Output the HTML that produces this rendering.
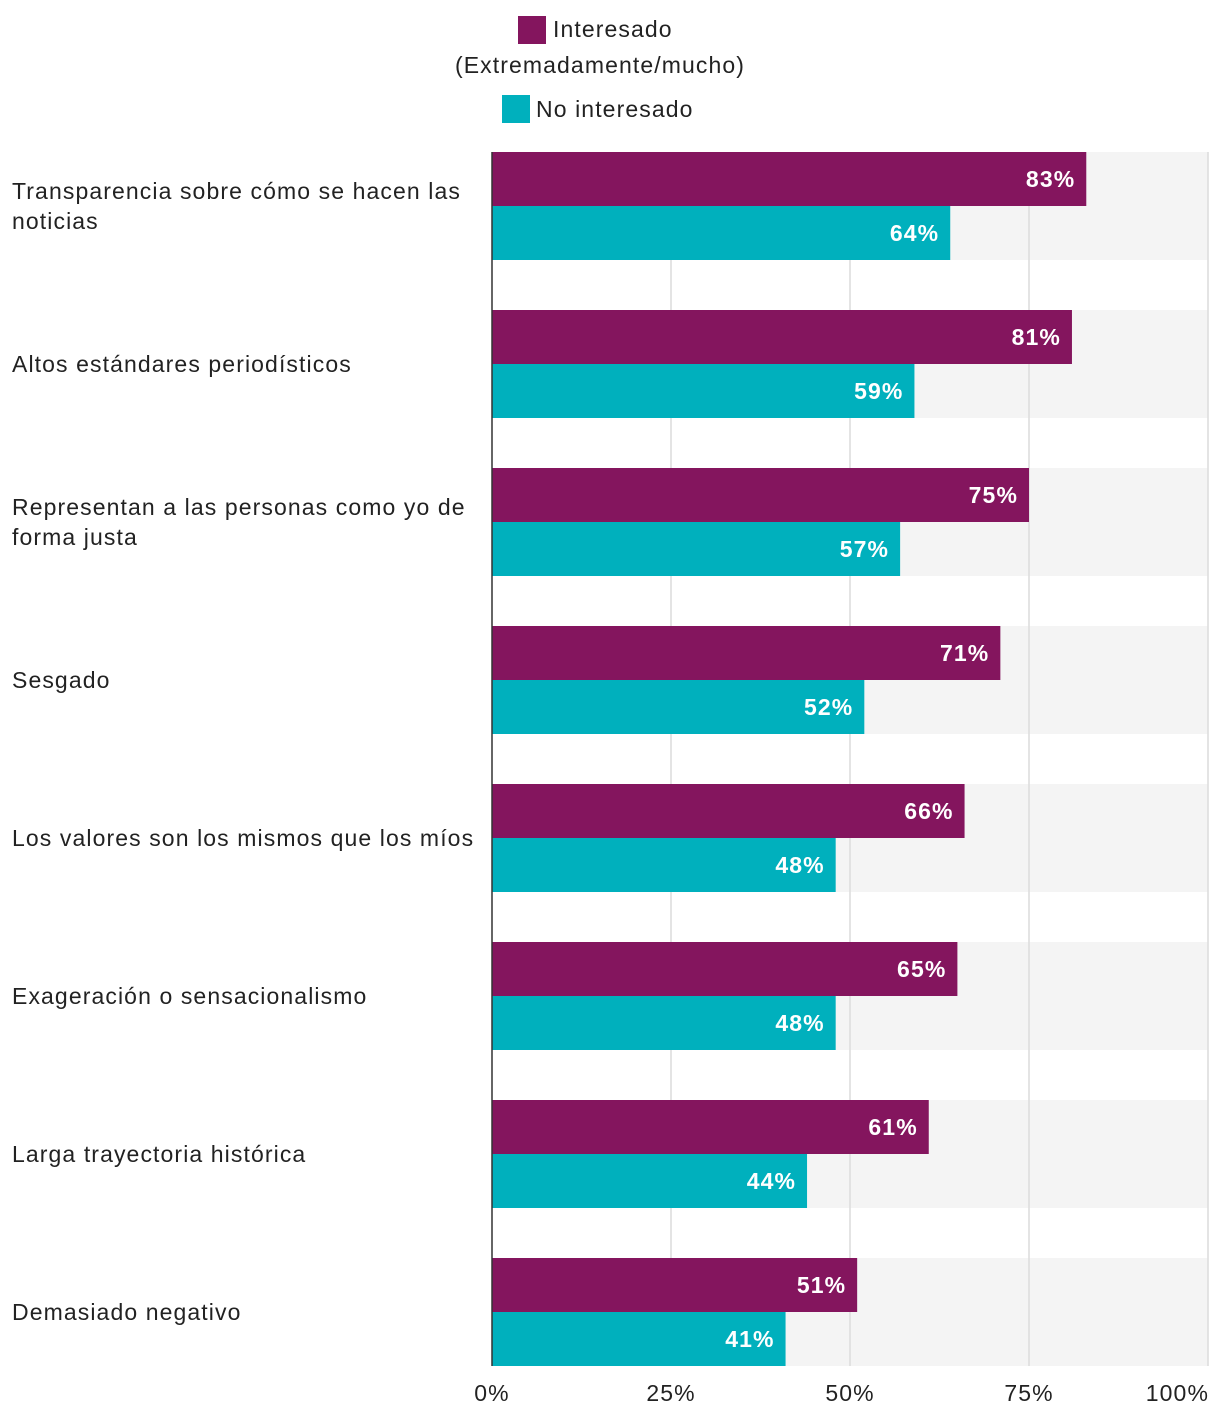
<!DOCTYPE html>
<html><head><meta charset="utf-8"><style>
body{margin:0;background:#fff;width:1220px;height:1420px;overflow:hidden;font-family:"Liberation Sans",sans-serif}
text{letter-spacing:1.1px}
</style></head><body>
<svg id="chart" width="1220" height="1420" xmlns="http://www.w3.org/2000/svg" font-family="Liberation Sans, sans-serif">
<g>
<rect x="518" y="16" width="28" height="28" fill="#84155e"/>
<text x="553" y="37" font-size="23" fill="#222">Interesado</text>
<text x="600" y="73" font-size="23" fill="#222" text-anchor="middle">(Extremadamente/mucho)</text>
<rect x="502" y="95" width="28" height="28" fill="#00b0bd"/>
<text x="536" y="117" font-size="23" fill="#222">No interesado</text>
</g>
<g id="plot"></g>
</svg>
<script>
const categories=[["Transparencia sobre cómo se hacen las","noticias"],["Altos estándares periodísticos"],["Representan a las personas como yo de","forma justa"],["Sesgado"],["Los valores son los mismos que los míos"],["Exageración o sensacionalismo"],["Larga trayectoria histórica"],["Demasiado negativo"]];
const interested=[83,81,75,71,66,65,61,51];
const notInterested=[64,59,57,52,48,48,44,41];
const ticks=[0,25,50,75,100];
const tickLabels=["0%","25%","50%","75%","100%"];
const NS="http://www.w3.org/2000/svg";
const g=document.getElementById('plot');
const x0=492,x1=1208,top0=152,step=158,barH=54;
const xs=v=>x0+(x1-x0)*v/100;
function el(t,a){const e=document.createElementNS(NS,t);for(const k in a)e.setAttribute(k,a[k]);g.appendChild(e);return e;}
categories.forEach((c,i)=>{const y=top0+i*step;
 const b=el('rect',{x:x0,y:y,width:x1-x0,height:barH*2,fill:'#f4f4f4'});
 
 });
ticks.forEach((t,i)=>{
 if(t>0){const l=el('line',{x1:xs(t),x2:xs(t),y1:top0,y2:top0+7*step+barH*2,stroke:'#dcdcdc','stroke-width':1.5});
 
 }
 const tx=el('text',{x:i==4?xs(t)+1:xs(t),y:1401,'font-size':23,fill:'#222','text-anchor':i==4?'end':'middle'});
 tx.textContent=tickLabels[i];
 
 
});
categories.forEach((c,i)=>{const y=top0+i*step;
 [[interested,'#84155e',0,'bar-interested'],[notInterested,'#00b0bd',1,'bar-not-interested']].forEach(([arr,col,k,nm])=>{
  const v=arr[i],yy=y+k*barH;
  const r=el('rect',{x:x0,y:yy,width:xs(v)-x0,height:barH,fill:col});
  
  
  const t=el('text',{x:xs(v)-11,y:yy+35,'font-size':23,'font-weight':'bold',fill:'#fff','text-anchor':'end','letter-spacing':'1.8'});
  t.textContent=v+'%';
  
  
 });
 const lt=el('text',{x:12,y:0,'font-size':23,fill:'#222'});
 
 
 const cy=y+barH;const n=c.length;
 c.forEach((s,j)=>{const ts=document.createElementNS(NS,'tspan');ts.setAttribute('x',12);ts.setAttribute('y',cy+8+(j-(n-1)/2)*30);ts.textContent=s;lt.appendChild(ts);});
});
const ax=el('line',{x1:x0,x2:x0,y1:top0,y2:top0+7*step+barH*2,stroke:'#333','stroke-width':1.5});


</script>
</body></html>
